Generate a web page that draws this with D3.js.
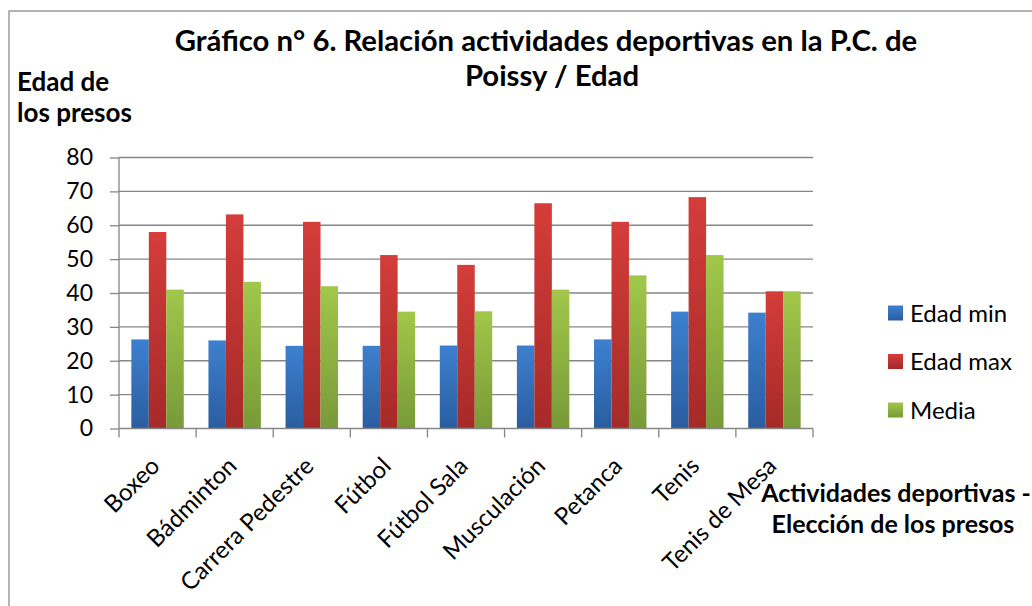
<!DOCTYPE html>
<html lang="es">
<head>
    <meta charset="UTF-8">
    <style>
        body {
            margin: 0;
            background: #fff;
        }
        svg text {
            font-family: Lato, "Open Sans", sans-serif;
            fill: #000;
        }
        .grid line, .axis line {
            stroke: #868686;
            stroke-width: 1.3px;
        }
    </style>
    <script src="https://d3js.org/d3.v7.min.js"></script>
</head>
<body>
<svg width="1032" height="606"></svg>

<script>
    var categories = ["Boxeo", "Bádminton", "Carrera Pedestre", "Fútbol", "Fútbol Sala",
                      "Musculación", "Petanca", "Tenis", "Tenis de Mesa"];
    var edadMin = [26.3, 26, 24.4, 24.4, 24.5, 24.5, 26.3, 34.5, 34.2];
    var edadMax = [58, 63.2, 61, 51.2, 48.3, 66.5, 61, 68.3, 40.5];
    var media   = [41, 43.3, 42, 34.5, 34.6, 41, 45.2, 51.2, 40.5];
    var seriesNames = ["Edad min", "Edad max", "Media"];
    var yTicks = [0, 10, 20, 30, 40, 50, 60, 70, 80];

    var series = [
        {name: seriesNames[0], values: edadMin, c1: "#3d80cf", c2: "#2a5d9f"},
        {name: seriesNames[1], values: edadMax, c1: "#d43d3a", c2: "#a52a28"},
        {name: seriesNames[2], values: media,   c1: "#a1c74a", c2: "#789a38"}
    ];

    var svg = d3.select("svg");

    // frame of the chart area
    svg.append("rect")
        .attr("x", 9).attr("y", 11)
        .attr("width", 1040).attr("height", 620)
        .attr("fill", "none").attr("stroke", "#8c8c8c").attr("stroke-width", 1.3);

    var defs = svg.append("defs");
    series.forEach(function(s, i) {
        var g = defs.append("linearGradient")
            .attr("id", "grad" + i)
            .attr("x1", 0).attr("y1", 0).attr("x2", 0).attr("y2", 1);
        g.append("stop").attr("offset", "0%").attr("stop-color", s.c1);
        g.append("stop").attr("offset", "100%").attr("stop-color", s.c2);
    });

    var plotLeft = 119, plotRight = 813, plotTop = 157.5, plotBottom = 428.5;

    var x = d3.scaleBand()
        .domain(categories)
        .range([plotLeft, plotRight])
        .paddingInner(0.32)
        .paddingOuter(0.16);

    var xInner = d3.scaleBand()
        .domain(seriesNames)
        .range([0, x.bandwidth()]);

    var y = d3.scaleLinear().domain([0, 80]).range([plotBottom, plotTop]);

    // gridlines
    svg.append("g").attr("class", "grid")
        .selectAll("line")
        .data(yTicks.filter(function(d) { return d > 0; }))
        .enter().append("line")
        .attr("x1", plotLeft).attr("x2", plotRight)
        .attr("y1", function(d) { return y(d); })
        .attr("y2", function(d) { return y(d); });

    // bars
    var groups = svg.append("g")
        .selectAll("g")
        .data(series).enter()
        .append("g")
        .attr("fill", function(d, i) { return "url(#grad" + i + ")"; });

    groups.selectAll("rect")
        .data(function(s) {
            return s.values.map(function(v, j) { return {cat: categories[j], value: v, name: s.name}; });
        })
        .enter().append("rect")
        .attr("x", function(d) { return x(d.cat) + xInner(d.name); })
        .attr("width", xInner.bandwidth())
        .attr("y", function(d) { return y(d.value); })
        .attr("height", function(d) { return y(0) - y(d.value); });

    // y axis
    var yAxis = d3.axisLeft(y).tickValues(yTicks).tickSize(9).tickPadding(17);
    var yg = svg.append("g").attr("class", "axis")
        .attr("transform", "translate(" + plotLeft + ",0)")
        .call(yAxis);
    yg.select(".domain").remove();
    yg.append("line").attr("x1", 0).attr("x2", 0).attr("y1", plotTop).attr("y2", plotBottom);
    yg.selectAll("text").attr("font-size", 23).attr("fill", "#000")
        .style("font-family", "Lato, sans-serif");

    // x axis
    var xg = svg.append("g").attr("class", "axis");
    xg.append("line").attr("x1", plotLeft).attr("x2", plotRight).attr("y1", plotBottom).attr("y2", plotBottom);
    var bounds = categories.map(function(c) { return x(c) - x.step() * x.paddingInner() / 2; });
    bounds.push(plotRight);
    xg.selectAll(".tickx").data(bounds).enter().append("line")
        .attr("class", "tickx")
        .attr("x1", function(d) { return d; }).attr("x2", function(d) { return d; })
        .attr("y1", plotBottom).attr("y2", plotBottom + 9);

    xg.selectAll(".catlabel").data(categories).enter().append("text")
        .attr("class", "catlabel")
        .attr("text-anchor", "end")
        .attr("font-size", 24)
        .attr("transform", function(d) {
            return "translate(" + (x(d) + x.bandwidth() / 2 + 3.5) + "," + (plotBottom + 39) + ") rotate(-45)";
        })
        .text(function(d) { return d; });

    // titles
    var title = svg.append("text")
        .attr("text-anchor", "middle")
        .attr("font-weight", "bold")
        .attr("font-size", 29.3);
    title.append("tspan").attr("x", 546).attr("y", 51)
        .text("Gráfico n° 6. Relación actividades deportivas en la P.C. de");
    title.append("tspan").attr("x", 552).attr("y", 86).text("Poissy / Edad");

    var yTitle = svg.append("text")
        .attr("font-weight", "bold")
        .attr("font-size", 26);
    yTitle.append("tspan").attr("x", 17).attr("y", 91).text("Edad de");
    yTitle.append("tspan").attr("x", 17).attr("y", 122).text("los presos");

    var xTitle = svg.append("text")
        .attr("text-anchor", "middle")
        .attr("font-weight", "bold")
        .attr("font-size", 25);
    xTitle.append("tspan").attr("x", 896).attr("y", 502).text("Actividades deportivas -");
    xTitle.append("tspan").attr("x", 893).attr("y", 533).text("Elección de los presos");

    // legend
    var legend = svg.append("g").attr("transform", "translate(888,313)");
    var item = legend.selectAll("g").data(series).enter().append("g")
        .attr("transform", function(d, i) { return "translate(0," + (i * 48.5) + ")"; });
    item.append("rect")
        .attr("x", 0).attr("y", -7.5).attr("width", 15).attr("height", 15)
        .attr("fill", function(d, i) { return "url(#grad" + i + ")"; });
    item.append("text")
        .attr("x", 22).attr("dy", "0.36em")
        .attr("font-size", 24)
        .text(function(d) { return d.name; });
</script>
</body>
</html>
